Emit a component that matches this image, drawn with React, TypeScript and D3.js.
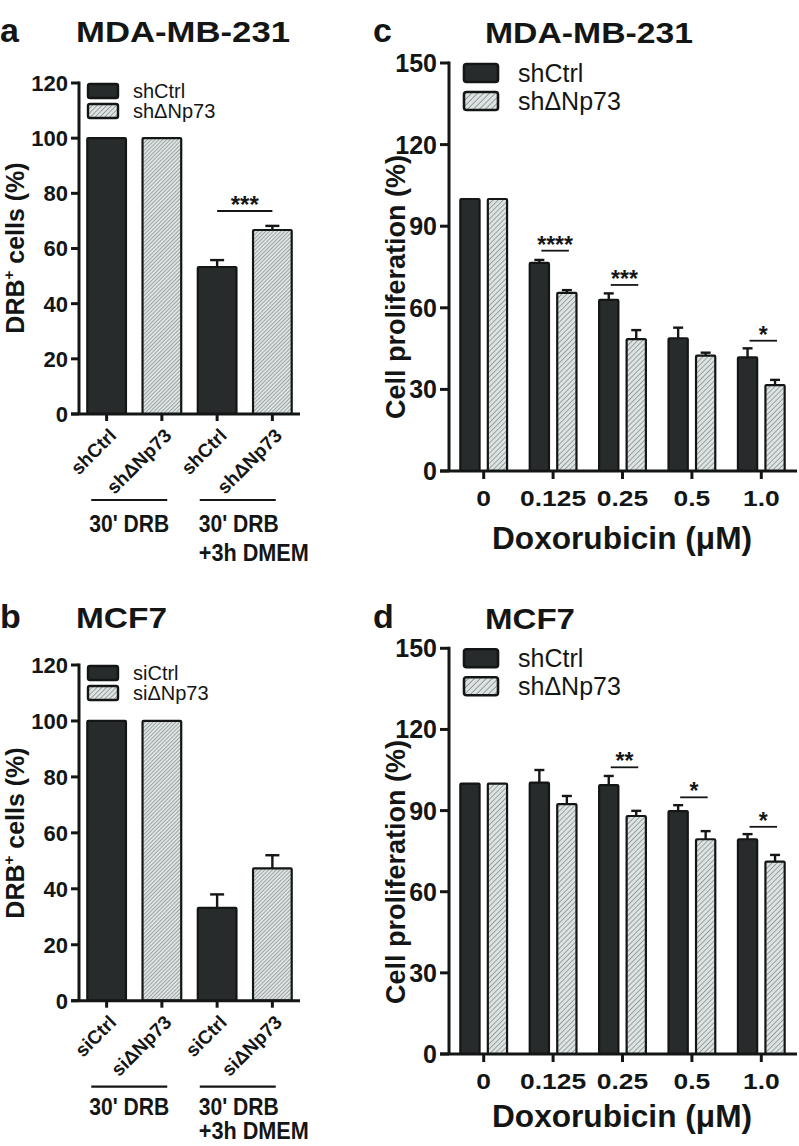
import React from "react";
import * as d3 from "d3";

const FONT = "Arial, 'Liberation Sans', Helvetica, sans-serif";
const INK = "#141616";
const DARK = "#272b2b";
const LIGHT = "#dde3e2";
const HATCH = "#5a6060";

// ---------- data: panels a / b (DRB+ cells) ----------
const drbTicks = [0, 20, 40, 60, 80, 100, 120];
const drbLabelsA = ["shCtrl", "sh\u0394Np73", "shCtrl", "sh\u0394Np73"];
const drbValuesA = [100, 100, 53.3, 66.7];
const drbSemA = [0, 0, 2.5, 1.5];
const drbLegendA = ["shCtrl", "sh\u0394Np73"];
const drbSigA = [{ from: 2, to: 3, level: 73.6, label: "***" }];

const drbLabelsB = ["siCtrl", "si\u0394Np73", "siCtrl", "si\u0394Np73"];
const drbValuesB = [100, 100, 33.2, 47.3];
const drbSemB = [0, 0, 4.8, 4.7];
const drbLegendB = ["siCtrl", "si\u0394Np73"];
const drbSigB: { from: number; to: number; level: number; label: string }[] = [];

const drbCondition1 = ["30' DRB"];
const drbCondition2 = ["30' DRB", "+3h DMEM"];

// ---------- data: panels c / d (cell proliferation) ----------
const doses = ["0", "0.125", "0.25", "0.5", "1.0"];
const prolifTicks = [0, 30, 60, 90, 120, 150];
const prolifSeries = ["shCtrl", "sh\u0394Np73"];
const doseAxisTitle = "Doxorubicin (\u03bcM)";

const cCtrl = [100, 76.5, 62.9, 48.8, 41.8];
const cCtrlSem = [0, 1.1, 2.4, 3.9, 3.3];
const cKd = [100, 65.5, 48.5, 42.4, 31.6];
const cKdSem = [0, 1.0, 3.3, 1.1, 1.9];
const cSig = [
  { dose: "0.125", level: 81, label: "****" },
  { dose: "0.25", level: 68.4, label: "***" },
  { dose: "1.0", level: 47.9, label: "*" },
];

const dCtrl = [100, 100.3, 99.4, 89.8, 79.4];
const dCtrlSem = [0, 4.7, 3.4, 2.2, 1.9];
const dKd = [100, 92.4, 88.0, 79.4, 71.1];
const dKdSem = [0, 3.0, 1.9, 3.0, 2.5];
const dSig = [
  { dose: "0.25", level: 106, label: "**" },
  { dose: "0.5", level: 94.9, label: "*" },
  { dose: "1.0", level: 84, label: "*" },
];

type Sig = { from: number; to: number; level: number; label: string };

function DrbPanel(props: {
  letter: string;
  title: string;
  titleLen: number;
  titleY: number;
  y0: number;
  yTop: number;
  labels: string[];
  values: number[];
  sem: number[];
  legend: string[];
  sig: Sig[];
  yLabelY: number;
  condTop: number;
  condGap: number;
}) {
  const { letter, title, titleLen, titleY, y0, yTop, labels, values, sem, legend, sig, yLabelY, condTop, condGap } =
    props;
  const axisX = 79;
  const y = d3.scaleLinear().domain([0, 120]).range([y0, yTop]);
  const idx = d3.range(labels.length);
  const x = d3
    .scaleBand<number>()
    .domain(idx)
    .range([axisX, 300])
    .paddingInner(0.3)
    .paddingOuter(0.15);
  const bw = x.bandwidth();
  const cx = (i: number) => (x(i) as number) + bw / 2;
  const pc1 = (cx(0) + cx(1)) / 2;
  const pc2 = (cx(2) + cx(3)) / 2;
  const capW = 14;
  return (
    <g>
      <text x={0} y={titleY} fontSize={34} fontWeight="bold" fill={INK}>
        {letter}
      </text>
      <text
        x={76}
        y={titleY}
        fontSize={30}
        fontWeight="bold"
        fill={INK}
        textLength={titleLen}
        lengthAdjust="spacingAndGlyphs"
      >
        {title}
      </text>
      {/* y label */}
      <text
        transform={`translate(24,${yLabelY}) rotate(-90)`}
        textAnchor="middle"
        fontSize={25}
        fontWeight="bold"
        fill={INK}
      >
        DRB
        <tspan dy={-10} fontSize={15}>
          +
        </tspan>
        <tspan dy={10}> cells (%)</tspan>
      </text>
      {/* bars */}
      {idx.map((i) => (
        <rect
          key={"b" + i}
          x={x(i)}
          y={y(values[i])}
          width={bw}
          height={y0 - y(values[i])}
          fill={i % 2 === 0 ? DARK : "url(#hatchAB)"}
          stroke={INK}
          strokeWidth={2.2}
          rx={1}
        />
      ))}
      {idx
        .filter((i) => sem[i] > 0)
        .map((i) => (
          <g key={"e" + i} stroke={INK} strokeWidth={2.4}>
            <line x1={cx(i)} x2={cx(i)} y1={y(values[i])} y2={y(values[i] + sem[i])} />
            <line
              x1={cx(i) - capW / 2}
              x2={cx(i) + capW / 2}
              y1={y(values[i] + sem[i])}
              y2={y(values[i] + sem[i])}
            />
          </g>
        ))}
      {/* axes */}
      <line x1={axisX} x2={axisX} y1={yTop - 1.5} y2={y0} stroke={INK} strokeWidth={3} />
      <line x1={axisX - 8} x2={300} y1={y0} y2={y0} stroke={INK} strokeWidth={3} />
      {drbTicks.map((t) => (
        <g key={"t" + t}>
          <line x1={axisX - 8} x2={axisX} y1={y(t)} y2={y(t)} stroke={INK} strokeWidth={3} />
          <text
            x={68}
            y={y(t)}
            dy="0.36em"
            textAnchor="end"
            fontSize={22}
            fontWeight="bold"
            fill={INK}
          >
            {t}
          </text>
        </g>
      ))}
      {idx.map((i) => (
        <g key={"x" + i}>
          <line x1={cx(i)} x2={cx(i)} y1={y0} y2={y0 + 7} stroke={INK} strokeWidth={3} />
          <text
            transform={`translate(${cx(i) + 6},${y0 + 18}) rotate(-45)`}
            textAnchor="end"
            dy="0.36em"
            fontSize={19}
            fontWeight="bold"
            fill={INK}
          >
            {labels[i]}
          </text>
        </g>
      ))}
      {/* condition groups */}
      <line x1={pc1 - 43} x2={pc1 + 33} y1={y0 + 86} y2={y0 + 86} stroke={INK} strokeWidth={2.2} />
      <line x1={pc2 - 45} x2={pc2 + 31} y1={y0 + 86} y2={y0 + 86} stroke={INK} strokeWidth={2.2} />
      {drbCondition1.map((s, k) => (
        <text
          key={"c1" + k}
          x={pc1 - 5}
          y={y0 + condTop + k * condGap}
          textAnchor="middle"
          fontSize={24}
          fontWeight="bold"
          fill={INK}
          textLength={80}
          lengthAdjust="spacingAndGlyphs"
        >
          {s}
        </text>
      ))}
      {drbCondition2.map((s, k) => (
        <text
          key={"c2" + k}
          x={pc2 - 46}
          y={y0 + condTop + k * condGap}
          fontSize={24}
          fontWeight="bold"
          fill={INK}
          textLength={k === 0 ? 80 : 110}
          lengthAdjust="spacingAndGlyphs"
        >
          {s}
        </text>
      ))}
      {/* significance */}
      {sig.map((s, k) => (
        <g key={"s" + k}>
          <line
            x1={cx(s.from)}
            x2={cx(s.to)}
            y1={y(s.level)}
            y2={y(s.level)}
            stroke={INK}
            strokeWidth={2}
          />
          <text
            x={(cx(s.from) + cx(s.to)) / 2}
            y={y(s.level) + 2}
            textAnchor="middle"
            fontSize={24}
            fontWeight="bold"
            fill={INK}
          >
            {s.label}
          </text>
        </g>
      ))}
      {/* legend */}
      {legend.map((l, k) => (
        <g key={"l" + k}>
          <rect
            x={88}
            y={yTop + 1 + k * 20}
            width={30}
            height={14}
            rx={2}
            fill={k === 0 ? DARK : "url(#hatchLegAB)"}
            stroke={INK}
            strokeWidth={2.4}
          />
          <text x={133} y={yTop + 15 + k * 20} fontSize={20} fill={INK}>
            {l}
          </text>
        </g>
      ))}
    </g>
  );
}

function ProlifPanel(props: {
  letter: string;
  title: string;
  titleLen: number;
  titleY: number;
  y0: number;
  yTop: number;
  ctrl: number[];
  ctrlSem: number[];
  kd: number[];
  kdSem: number[];
  sig: { dose: string; level: number; label: string }[];
  yLabelY: number;
  xTitleY: number;
}) {
  const { letter, title, titleLen, titleY, y0, yTop, ctrl, ctrlSem, kd, kdSem, sig, yLabelY, xTitleY } = props;
  const axisX = 449;
  const xRight = 797;
  const y = d3.scaleLinear().domain([0, 150]).range([y0, yTop]);
  const x0 = d3.scaleBand<string>().domain(doses).range([axisX, axisX + 347]).padding(0);
  const x1 = d3
    .scaleBand<string>()
    .domain(prolifSeries)
    .range([-33, 33])
    .paddingInner(0.3)
    .paddingOuter(0.35);
  const bw = x1.bandwidth();
  const gc = (d: string) => (x0(d) as number) + x0.bandwidth() / 2;
  const bc = (d: string, s: string) => gc(d) + (x1(s) as number) + bw / 2;
  const seriesVals = [ctrl, kd];
  const seriesSem = [ctrlSem, kdSem];
  const capW = 10;
  return (
    <g>
      <text x={373} y={titleY} fontSize={34} fontWeight="bold" fill={INK}>
        {letter}
      </text>
      <text
        x={485}
        y={titleY + 1}
        fontSize={30}
        fontWeight="bold"
        fill={INK}
        textLength={titleLen}
        lengthAdjust="spacingAndGlyphs"
      >
        {title}
      </text>
      <text
        transform={`translate(405,${yLabelY}) rotate(-90)`}
        textAnchor="middle"
        fontSize={27}
        fontWeight="bold"
        fill={INK}
      >
        Cell proliferation (%)
      </text>
      {prolifSeries.map((s, si) =>
        doses.map((d, di) => {
          const v = seriesVals[si][di];
          return (
            <rect
              key={s + d}
              x={gc(d) + (x1(s) as number)}
              y={y(v)}
              width={bw}
              height={y0 - y(v)}
              fill={si === 0 ? DARK : "url(#hatchCD)"}
              stroke={INK}
              strokeWidth={2.2}
              rx={1}
            />
          );
        })
      )}
      {prolifSeries.map((s, si) =>
        doses.map((d, di) => {
          const v = seriesVals[si][di];
          const e = seriesSem[si][di];
          if (e <= 0) return null;
          const c = bc(d, s);
          return (
            <g key={"e" + s + d} stroke={INK} strokeWidth={2.4}>
              <line x1={c} x2={c} y1={y(v)} y2={y(v + e)} />
              <line x1={c - capW / 2} x2={c + capW / 2} y1={y(v + e)} y2={y(v + e)} />
            </g>
          );
        })
      )}
      <line x1={axisX} x2={axisX} y1={yTop - 1.5} y2={y0} stroke={INK} strokeWidth={3} />
      <line x1={axisX - 9} x2={xRight} y1={y0} y2={y0} stroke={INK} strokeWidth={3} />
      {prolifTicks.map((t) => (
        <g key={"t" + t}>
          <line x1={axisX - 9} x2={axisX} y1={y(t)} y2={y(t)} stroke={INK} strokeWidth={3} />
          <text
            x={437}
            y={y(t)}
            dy="0.36em"
            textAnchor="end"
            fontSize={25}
            fontWeight="bold"
            fill={INK}
          >
            {t}
          </text>
        </g>
      ))}
      {doses.map((d) => (
        <g key={"x" + d}>
          <line x1={gc(d)} x2={gc(d)} y1={y0} y2={y0 + 8} stroke={INK} strokeWidth={3} />
          <text
            transform={`translate(${gc(d)},${y0 + 35}) scale(1.2,1)`}
            textAnchor="middle"
            fontSize={22}
            fontWeight="bold"
            fill={INK}
          >
            {d}
          </text>
        </g>
      ))}
      <text
        x={622}
        y={xTitleY}
        textAnchor="middle"
        fontSize={31}
        fontWeight="bold"
        fill={INK}
        textLength={260}
        lengthAdjust="spacingAndGlyphs"
      >
        {doseAxisTitle}
      </text>
      {sig.map((s, k) => {
        const a = bc(s.dose, prolifSeries[0]);
        const b = bc(s.dose, prolifSeries[1]);
        return (
          <g key={"s" + k}>
            <line x1={a + 2} x2={b + 2} y1={y(s.level)} y2={y(s.level)} stroke={INK} strokeWidth={1.8} />
            <text
              x={(a + b) / 2 + 2}
              y={y(s.level) + 2}
              textAnchor="middle"
              fontSize={23}
              fontWeight="bold"
              fill={INK}
            >
              {s.label}
            </text>
          </g>
        );
      })}
      {prolifSeries.map((l, k) => (
        <g key={"l" + k}>
          <rect
            x={464}
            y={yTop + 1 + k * 28}
            width={34}
            height={18}
            rx={2.5}
            fill={k === 0 ? DARK : "url(#hatchLegCD)"}
            stroke={INK}
            strokeWidth={2.6}
          />
          <text x={518} y={yTop + 19 + k * 28} fontSize={25} fill={INK}>
            {l}
          </text>
        </g>
      ))}
    </g>
  );
}

function Hatch({ id, size, lw }: { id: string; size: number; lw: number }) {
  return (
    <pattern
      id={id}
      patternUnits="userSpaceOnUse"
      width={size}
      height={size}
      patternTransform="rotate(45)"
    >
      <rect width={size} height={size} fill={LIGHT} />
      <line x1={0} y1={0} x2={0} y2={size} stroke={HATCH} strokeWidth={lw} />
    </pattern>
  );
}

export default function App() {
  return (
    <svg
      width={799}
      height={1146}
      viewBox="0 0 799 1146"
      style={{ position: "absolute", left: 0, top: 0, background: "#fff" }}
      fontFamily={FONT}
    >
      <defs>
        <Hatch id="hatchAB" size={2.7} lw={0.9} />
        <Hatch id="hatchLegAB" size={3.4} lw={1} />
        <Hatch id="hatchCD" size={3.6} lw={1} />
        <Hatch id="hatchLegCD" size={4.2} lw={1.1} />
      </defs>
      <rect width={799} height={1146} fill="#fff" />
      <DrbPanel
        letter="a"
        title="MDA-MB-231"
        titleLen={214}
        titleY={42}
        y0={414}
        yTop={83}
        labels={drbLabelsA}
        values={drbValuesA}
        sem={drbSemA}
        legend={drbLegendA}
        sig={drbSigA}
        yLabelY={248}
        condTop={118}
        condGap={29}
      />
      <DrbPanel
        letter="b"
        title="MCF7"
        titleLen={91}
        titleY={628}
        y0={1000.7}
        yTop={665}
        labels={drbLabelsB}
        values={drbValuesB}
        sem={drbSemB}
        legend={drbLegendB}
        sig={drbSigB}
        yLabelY={833}
        condTop={114}
        condGap={24.5}
      />
      <ProlifPanel
        letter="c"
        title="MDA-MB-231"
        titleLen={208}
        titleY={42}
        y0={471}
        yTop={63}
        ctrl={cCtrl}
        ctrlSem={cCtrlSem}
        kd={cKd}
        kdSem={cKdSem}
        sig={cSig}
        yLabelY={287}
        xTitleY={549}
      />
      <ProlifPanel
        letter="d"
        title="MCF7"
        titleLen={90}
        titleY={628}
        y0={1054}
        yTop={648.3}
        ctrl={dCtrl}
        ctrlSem={dCtrlSem}
        kd={dKd}
        kdSem={dKdSem}
        sig={dSig}
        yLabelY={872}
        xTitleY={1127}
      />
    </svg>
  );
}
